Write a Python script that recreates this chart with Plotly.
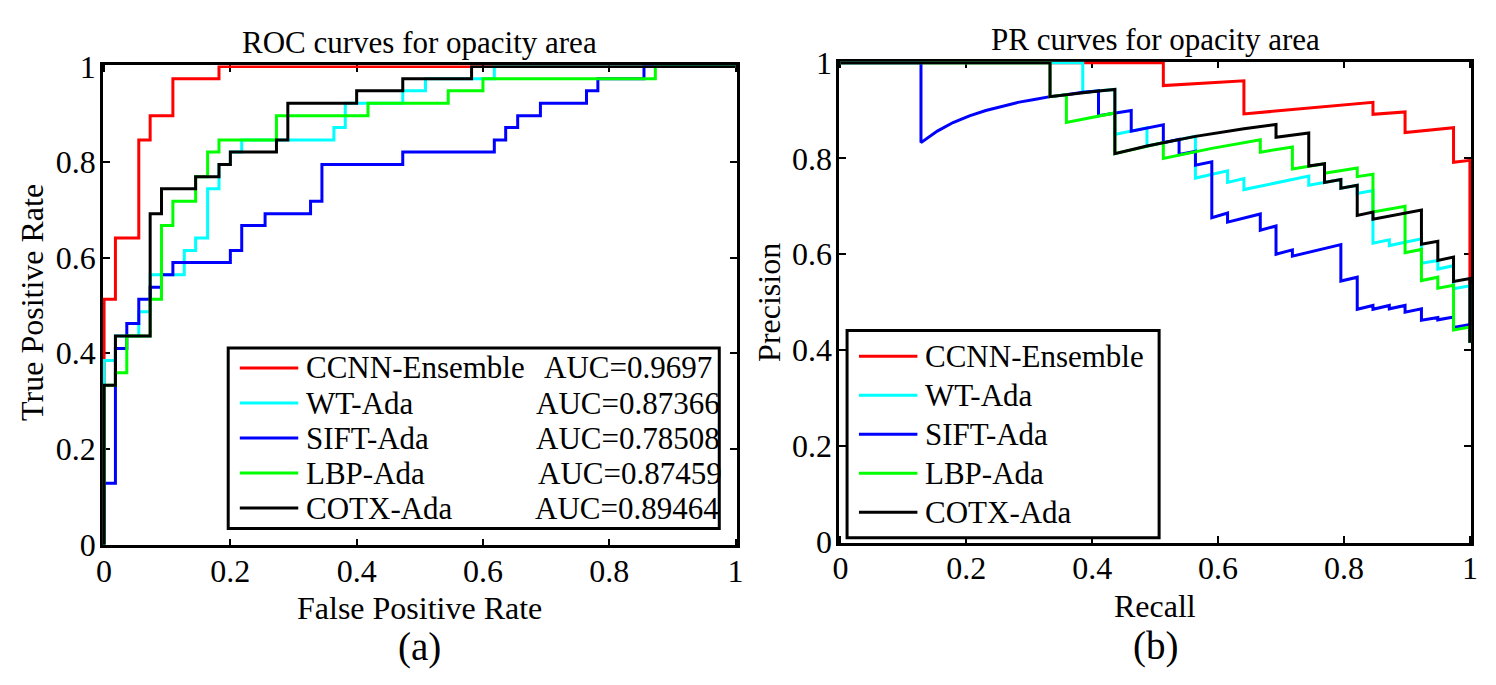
import plotly.graph_objects as go

# ---------------- data ----------------
methods = ["CCNN-Ensemble", "WT-Ada", "SIFT-Ada", "LBP-Ada", "COTX-Ada"]
auc_labels = ["AUC=0.9697", "AUC=0.87366", "AUC=0.78508", "AUC=0.87459", "AUC=0.89464"]
tick_vals = [0, 0.2, 0.4, 0.6, 0.8, 1]
tick_text = ["0", "0.2", "0.4", "0.6", "0.8", "1"]

# ROC operating points (drawn as horizontal-then-vertical steps)
roc_fpr_ccnn = [0, 0, 0.018, 0.055, 0.073, 0.109, 0.182, 1]
roc_tpr_ccnn = [0, 0.513, 0.641, 0.846, 0.897, 0.974, 1, 1]

roc_fpr_wt = [0, 0, 0.018, 0.055, 0.073, 0.127, 0.145, 0.164, 0.182, 0.2, 0.218, 0.364, 0.382, 0.473, 0.509, 0.618, 1]
roc_tpr_wt = [0, 0.385, 0.436, 0.487, 0.564, 0.615, 0.641, 0.744, 0.795, 0.821, 0.846, 0.872, 0.923, 0.949, 0.974, 1, 1]

roc_fpr_sift = [0, 0, 0.018, 0.036, 0.055, 0.073, 0.091, 0.109, 0.2, 0.218, 0.255, 0.327, 0.345, 0.473, 0.618, 0.636, 0.655, 0.691, 0.764, 0.782, 0.855, 1]
roc_tpr_sift = [0, 0.128, 0.410, 0.462, 0.513, 0.538, 0.564, 0.590, 0.615, 0.667, 0.692, 0.718, 0.795, 0.821, 0.846, 0.872, 0.897, 0.923, 0.949, 0.974, 1, 1]

roc_fpr_lbp = [0, 0, 0.018, 0.036, 0.073, 0.091, 0.109, 0.145, 0.164, 0.182, 0.273, 0.418, 0.545, 0.6, 0.873, 1]
roc_tpr_lbp = [0, 0.333, 0.359, 0.436, 0.513, 0.667, 0.718, 0.769, 0.821, 0.846, 0.897, 0.923, 0.949, 0.974, 1, 1]

roc_fpr_cotx = [0, 0, 0.018, 0.073, 0.091, 0.145, 0.182, 0.2, 0.273, 0.291, 0.4, 0.473, 0.582, 1]
roc_tpr_cotx = [0, 0.333, 0.436, 0.692, 0.744, 0.769, 0.795, 0.821, 0.846, 0.923, 0.949, 0.974, 1, 1]

# PR curve vertices (recall, precision)
pr_rec_ccnn = [0, 0.513, 0.513, 0.641, 0.641, 0.846, 0.846, 0.897, 0.897, 0.974, 0.974, 1, 1]
pr_prec_ccnn = [1, 1, 0.952, 0.962, 0.893, 0.917, 0.892, 0.897, 0.854, 0.864, 0.792, 0.796, 0.415]

pr_rec_wt = [0, 0.385, 0.385, 0.436, 0.436, 0.487, 0.487, 0.564, 0.564, 0.615, 0.615, 0.641, 0.641, 0.744, 0.744,
             0.795, 0.795, 0.821, 0.821, 0.846, 0.846, 0.872, 0.872, 0.923, 0.923, 0.949, 0.949, 0.974, 0.974, 1, 1]
pr_prec_wt = [1, 1, 0.938, 0.944, 0.85, 0.864, 0.826, 0.846, 0.759, 0.774, 0.75, 0.758, 0.735, 0.763, 0.744,
              0.756, 0.738, 0.744, 0.727, 0.733, 0.623, 0.63, 0.618, 0.632, 0.581, 0.587, 0.569, 0.576, 0.528, 0.534, 0.415]

pr_rec_sift = [0, 0.128, 0.128, 0.154, 0.179, 0.205, 0.231, 0.256, 0.282, 0.308, 0.333, 0.359, 0.385, 0.41,
               0.41, 0.462, 0.462, 0.513, 0.513, 0.538, 0.538, 0.564, 0.564, 0.59, 0.59, 0.615, 0.615, 0.667,
               0.667, 0.692, 0.692, 0.718, 0.718, 0.795, 0.795, 0.821, 0.821, 0.846, 0.846, 0.872, 0.872, 0.897,
               0.897, 0.923, 0.923, 0.949, 0.949, 0.974, 0.974, 1, 1]
pr_prec_sift = [1, 1, 0.833, 0.857, 0.875, 0.889, 0.9, 0.909, 0.917, 0.923, 0.929, 0.933, 0.938, 0.941,
                0.889, 0.9, 0.857, 0.87, 0.833, 0.84, 0.808, 0.815, 0.786, 0.793, 0.676, 0.686, 0.667, 0.684,
                0.65, 0.659, 0.6, 0.609, 0.596, 0.62, 0.544, 0.552, 0.485, 0.493, 0.485, 0.493, 0.486, 0.493,
                0.479, 0.486, 0.462, 0.468, 0.463, 0.469, 0.447, 0.453, 0.415]

pr_rec_lbp = [0, 0.333, 0.333, 0.359, 0.359, 0.436, 0.436, 0.513, 0.513, 0.59, 0.667, 0.667, 0.718, 0.718, 0.769,
              0.769, 0.821, 0.821, 0.846, 0.846, 0.897, 0.897, 0.923, 0.923, 0.949, 0.949, 0.974, 0.974, 1, 1]
pr_prec_lbp = [1, 1, 0.929, 0.933, 0.875, 0.895, 0.81, 0.833, 0.8, 0.821, 0.839, 0.813, 0.824, 0.778, 0.789,
               0.769, 0.78, 0.762, 0.767, 0.688, 0.7, 0.603, 0.61, 0.545, 0.552, 0.529, 0.535, 0.442, 0.448, 0.415]

pr_rec_cotx = [0, 0.333, 0.333, 0.359, 0.385, 0.41, 0.436, 0.436, 0.487, 0.564, 0.641, 0.692, 0.692, 0.744, 0.744,
               0.769, 0.769, 0.795, 0.795, 0.821, 0.821, 0.846, 0.846, 0.923, 0.923, 0.949, 0.949, 0.974, 0.974, 1, 1]
pr_prec_cotx = [1, 1, 0.929, 0.933, 0.938, 0.941, 0.944, 0.81, 0.826, 0.846, 0.862, 0.871, 0.844, 0.853, 0.784,
                0.789, 0.75, 0.756, 0.738, 0.744, 0.681, 0.688, 0.673, 0.692, 0.621, 0.627, 0.587, 0.594, 0.543, 0.549, 0.415]

roc_x = [roc_fpr_ccnn, roc_fpr_wt, roc_fpr_sift, roc_fpr_lbp, roc_fpr_cotx]
roc_y = [roc_tpr_ccnn, roc_tpr_wt, roc_tpr_sift, roc_tpr_lbp, roc_tpr_cotx]
pr_x = [pr_rec_ccnn, pr_rec_wt, pr_rec_sift, pr_rec_lbp, pr_rec_cotx]
pr_y = [pr_prec_ccnn, pr_prec_wt, pr_prec_sift, pr_prec_lbp, pr_prec_cotx]

# ---------------- styling / layout ----------------
colors = ["#FF0000", "#00FFFF", "#0000FF", "#00FF00", "#000000"]
W, H = 1496, 685
FONT = "Liberation Serif"

def px(x):
    return x / W

def py(y):
    return 1 - y / H

L = dict(x0=96.7, x1=736.7, top=51, bot=556)
R = dict(x0=840, x1=1478, top=47, bot=553)

fig = go.Figure()
for i in range(5):
    fig.add_trace(go.Scatter(x=roc_x[i], y=roc_y[i], mode="lines", name=methods[i],
                             line=dict(color=colors[i], width=3, shape="hv"),
                             xaxis="x", yaxis="y", showlegend=False))
for i in range(5):
    fig.add_trace(go.Scatter(x=pr_x[i], y=pr_y[i], mode="lines", name=methods[i],
                             line=dict(color=colors[i], width=3),
                             xaxis="x2", yaxis="y2", showlegend=False))

pad = 0.002
axis_common = dict(range=[-pad, 1 + pad], tickvals=tick_vals, ticktext=tick_text,
                   ticks="inside", ticklen=7, tickwidth=2, tickcolor="black",
                   showline=True, linecolor="black", linewidth=2.5, mirror="ticks",
                   showgrid=False, zeroline=False, layer="below traces",
                   tickfont=dict(family=FONT, size=32, color="black"), fixedrange=True)

fig.update_layout(
    width=W, height=H, margin=dict(l=0, r=0, t=0, b=0),
    paper_bgcolor="white", plot_bgcolor="white", showlegend=False,
    font=dict(family=FONT, color="black"),
    xaxis=dict(domain=[px(L["x0"]), px(L["x1"])], anchor="y", ticklabelstandoff=-5, **axis_common),
    yaxis=dict(domain=[py(L["bot"]), py(L["top"])], anchor="x", ticklabelstandoff=-2, **axis_common),
    xaxis2=dict(domain=[px(R["x0"]), px(R["x1"])], anchor="y2", ticklabelstandoff=-5, **axis_common),
    yaxis2=dict(domain=[py(R["bot"]), py(R["top"])], anchor="x2", ticklabelstandoff=-2, **axis_common),
)

ann = []
def text(x, y, s, size=32, xanchor="center", angle=0):
    ann.append(dict(x=px(x), y=py(y), xref="paper", yref="paper", text=s, showarrow=False,
                    xanchor=xanchor, yanchor="middle", textangle=angle,
                    font=dict(family=FONT, size=size, color="black")))

lc = (L["x0"] + L["x1"]) / 2
rc = (R["x0"] + R["x1"]) / 2
text(lc, 27, "ROC curves for opacity area", 31)
text(rc, 24, "PR curves for opacity area", 31)
text(lc, 622, "False Positive Rate", 32)
text(rc, 620, "Recall", 32)
text(25, 300, "True Positive Rate", 32, angle=-90)
text(769, 300, "Precision", 32, angle=-90)
text(lc, 663, "(a)", 39)
text(rc, 662, "(b)", 39)

shapes = []
def legend(box, rows, lx0, lx1, tx, names, extra=None, extra_x=None):
    shapes.append(dict(type="rect", xref="paper", yref="paper", x0=px(box[0]), x1=px(box[2]),
                       y0=py(box[3]), y1=py(box[1]), line=dict(color="black", width=3),
                       fillcolor="white", layer="above"))
    for i, yy in enumerate(rows):
        shapes.append(dict(type="line", xref="paper", yref="paper", x0=px(lx0), x1=px(lx1),
                           y0=py(yy), y1=py(yy), line=dict(color=colors[i], width=3), layer="above"))
        text(tx, yy, names[i], 31, xanchor="left")
        if extra is not None:
            text(extra_x[i], yy, extra[i], 31, xanchor="left")

legend((223.3, 348.3, 719, 538.3), [369.3, 406.2, 443.0, 479.9, 516.7], 235, 294, 300,
       methods, auc_labels, [540, 532, 532, 534, 531])
legend((848, 330, 1163, 548), [357, 398, 439, 480, 521], 860, 919, 925, methods)

fig.update_layout(annotations=ann, shapes=shapes)
fig.write_html("out.html", config={"displayModeBar": False},
               post_script="document.body.style.margin='0';")
